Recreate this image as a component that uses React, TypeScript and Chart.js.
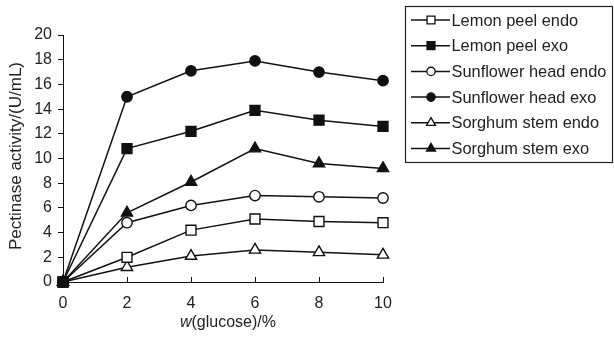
import React, { useEffect, useRef } from "react";
import { Chart, registerables } from "chart.js";

Chart.register(...registerables);

const xValues = [0, 2, 4, 6, 8, 10];
const seriesNames = [
  "Lemon peel endo",
  "Lemon peel exo",
  "Sunflower head endo",
  "Sunflower head exo",
  "Sorghum stem endo",
  "Sorghum stem exo",
];
const lemonEndo = [0, 2.0, 4.2, 5.1, 4.9, 4.8];
const lemonExo = [0, 10.8, 12.2, 13.9, 13.1, 12.6];
const sunflowerEndo = [0, 4.8, 6.2, 7.0, 6.9, 6.8];
const sunflowerExo = [0, 15.0, 17.1, 17.9, 17.0, 16.3];
const sorghumEndo = [0, 1.2, 2.1, 2.6, 2.4, 2.2];
const sorghumExo = [0, 5.6, 8.1, 10.8, 9.6, 9.2];
const xTicks = [0, 2, 4, 6, 8, 10];
const yTicks = [0, 2, 4, 6, 8, 10, 12, 14, 16, 18, 20];

const FONT = "'Liberation Sans', Arial, sans-serif";

const styles = [
  { pointStyle: "rect", radius: 7, fill: "#ffffff" },
  { pointStyle: "rect", radius: 7, fill: "#111111" },
  { pointStyle: "circle", radius: 5.2, fill: "#ffffff" },
  { pointStyle: "circle", radius: 5.2, fill: "#111111" },
  { pointStyle: "triangle", radius: 6.5, fill: "#ffffff" },
  { pointStyle: "triangle", radius: 6.5, fill: "#111111" },
];
const seriesData = [lemonEndo, lemonExo, sunflowerEndo, sunflowerExo, sorghumEndo, sorghumExo];
const drawOrder = [2, 0, 3, 1, 5, 4];

function drawMarker(ctx: CanvasRenderingContext2D, style: string, r: number, x: number, y: number, fill: string) {
  ctx.beginPath();
  if (style === "rect") {
    const s = Math.SQRT1_2 * r;
    ctx.rect(x - s, y - s, 2 * s, 2 * s);
  } else if (style === "circle") {
    ctx.arc(x, y, r, 0, Math.PI * 2);
  } else {
    const half = (r * Math.sqrt(3)) / 2;
    ctx.moveTo(x, y - r);
    ctx.lineTo(x + half, y + r / 2);
    ctx.lineTo(x - half, y + r / 2);
    ctx.closePath();
  }
  ctx.fillStyle = fill;
  ctx.fill();
  ctx.stroke();
}

const decorPlugin = {
  id: "decor",
  afterDraw(chart: any) {
    const ctx = chart.ctx;
    const xs = chart.scales.x;
    const area = chart.chartArea;
    ctx.save();
    // inward x ticks
    ctx.strokeStyle = "#111";
    ctx.lineWidth = 1;
    xTicks.forEach((v) => {
      const px = Math.round(xs.getPixelForValue(v)) + 0.5;
      ctx.beginPath();
      ctx.moveTo(px, area.bottom);
      ctx.lineTo(px, area.bottom - 5);
      ctx.stroke();
    });
    // axis titles
    ctx.fillStyle = "#222";
    ctx.textBaseline = "middle";
    ctx.font = "italic 16px " + FONT;
    const wW = ctx.measureText("w").width;
    ctx.font = "16px " + FONT;
    const restW = ctx.measureText("(glucose)/%").width;
    const cx = (area.left + area.right) / 2 + 5;
    const startX = cx - (wW + restW) / 2;
    ctx.textAlign = "left";
    ctx.font = "italic 16px " + FONT;
    ctx.fillText("w", startX, 323);
    ctx.font = "16px " + FONT;
    ctx.fillText("(glucose)/%", startX + wW, 323);

    ctx.save();
    ctx.translate(16, 156);
    ctx.rotate(-Math.PI / 2);
    ctx.textAlign = "center";
    ctx.font = "17px " + FONT;
    ctx.fillText("Pectinase activity/(U/mL)", 0, 0);
    ctx.restore();

    // legend
    const bx = 405.5, by = 6.5, bw = 207, bh = 156;
    ctx.strokeStyle = "#222";
    ctx.lineWidth = 1.2;
    ctx.strokeRect(bx, by, bw, bh);
    const rowH = 25.7;
    seriesNames.forEach((name, i) => {
      const y = 20 + i * rowH;
      ctx.strokeStyle = "#111";
      ctx.lineWidth = 1.5;
      ctx.beginPath();
      ctx.moveTo(411, y);
      ctx.lineTo(450, y);
      ctx.stroke();
      const st = styles[i];
      ctx.lineWidth = 1.3;
      drawMarker(ctx, st.pointStyle, st.radius * 0.8, 431, y, st.fill);
      ctx.fillStyle = "#222";
      ctx.font = "16.4px " + FONT;
      ctx.textAlign = "left";
      ctx.textBaseline = "middle";
      ctx.fillText(name, 451.5, y + 1);
    });
    ctx.restore();
  },
};

export default function App() {
  const ref = useRef<HTMLCanvasElement | null>(null);
  useEffect(() => {
    if (!ref.current) return;
    const chart = new Chart(ref.current, {
      type: "line",
      data: {
        datasets: seriesNames.map((name, i) => ({
          label: name,
          data: xValues.map((x, j) => ({ x, y: seriesData[i][j] })),
          borderColor: "#111",
          borderWidth: 1.5,
          pointStyle: styles[i].pointStyle as any,
          pointRadius: styles[i].radius,
          pointBackgroundColor: styles[i].fill,
          pointBorderColor: "#111",
          pointBorderWidth: 1.4,
          tension: 0,
          fill: false,
          clip: false as any,
          order: drawOrder[i],
        })),
      },
      options: {
        animation: false,
        responsive: true,
        maintainAspectRatio: false,
        layout: { padding: { left: 8, right: 231, top: 35, bottom: 0 } },
        plugins: { legend: { display: false }, tooltip: { enabled: false } },
        scales: {
          x: {
            type: "linear",
            min: 0,
            max: 10,
            afterBuildTicks: (s: any) => {
              s.ticks = xTicks.map((v) => ({ value: v }));
            },
            afterFit: (s: any) => {
              s.height = 55;
            },
            grid: { display: true, drawOnChartArea: false, drawTicks: false },
            border: { display: true, color: "#111", width: 1 },
            ticks: { color: "#222", font: { family: FONT, size: 16 }, padding: 12 },
          },
          y: {
            min: 0,
            max: 20,
            afterBuildTicks: (s: any) => {
              s.ticks = yTicks.map((v) => ({ value: v }));
            },
            afterFit: (s: any) => {
              s.width = 55;
            },
            grid: { display: true, drawOnChartArea: false, drawTicks: true, tickLength: 5, color: "#111" },
            border: { display: true, color: "#111", width: 1 },
            ticks: { color: "#222", font: { family: FONT, size: 16 }, padding: 6 },
          },
        },
      },
      plugins: [decorPlugin],
    });
    return () => chart.destroy();
  }, []);
  return (
    <div style={{ position: "fixed", left: 0, top: 0, width: 614, height: 337, background: "#fff" }}>
      <canvas ref={ref} />
    </div>
  );
}
